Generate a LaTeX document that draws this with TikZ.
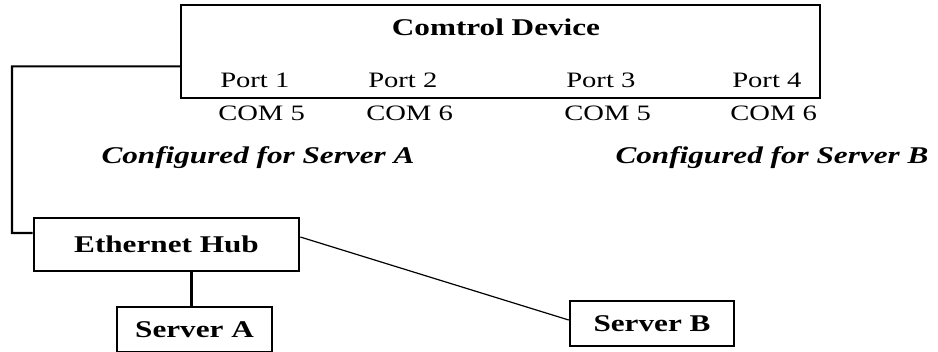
\documentclass[tikz,border=0pt]{standalone}
\usepackage{fontspec}
\setmainfont{Liberation Serif}[FakeStretch=1.3]
\begin{document}
\begin{tikzpicture}[x=0.75pt, y=-0.75pt,
    box/.style={draw, line width=1.8pt, inner sep=0pt, font=\bfseries\fontsize{18}{20}\selectfont},
    lbl/.style={anchor=west, inner xsep=0pt, font=\fontsize{16.5}{18}\selectfont},
    cfg/.style={font=\bfseries\itshape\fontsize{18}{20}\selectfont},
    wire/.style={line width=1.6pt},
    thin wire/.style={line width=0.9pt}]
    \useasboundingbox (0,0) rectangle (938,352);

    % comtrol device with its ports
    \node[box, minimum width=479pt, minimum height=70pt] (device) at (500.5,51.5) {};
    \node[font=\bfseries\fontsize{18}{20}\selectfont] (title) at (496,27) {Comtrol Device};
    \node[lbl] (p1) at (220,80) {Port 1};
    \node[lbl] (p2) at (368,80) {Port 2};
    \node[lbl] (p3) at (566,80) {Port 3};
    \node[lbl] (p4) at (732,80) {Port 4};

    % com numbers under the ports
    \node[lbl] (c1) at (218,113) {COM 5};
    \node[lbl] (c2) at (366,113) {COM 6};
    \node[lbl] (c3) at (564,113) {COM 5};
    \node[lbl] (c4) at (730,113) {COM 6};

    \node[cfg] (cfgA) at (258,158) {Configured for Server A};
    \node[cfg] (cfgB) at (772,158) {Configured for Server B};

    % hub and servers
    \node[box, minimum width=199pt, minimum height=40pt] (hub) at (166.5,244.5) {Ethernet Hub};
    \node[box, minimum width=116pt, minimum height=34pt] (srvA) at (194.5,329.5) {Server A};
    \node[box, minimum width=123pt, minimum height=34pt] (srvB) at (652,323.5) {Server B};

    % cabling
    \draw[wire] ([yshift=24.75pt]device.south west) -| (12,233) -- ([yshift=8.6pt]hub.west);
    \draw[wire] ([xshift=18.75pt]hub.south) -- ([xshift=-2.25pt]srvA.north);
    \draw[thin wire] ([yshift=5.6pt]hub.east) -- ([yshift=2.6pt]srvB.west);
\end{tikzpicture}
\end{document}
